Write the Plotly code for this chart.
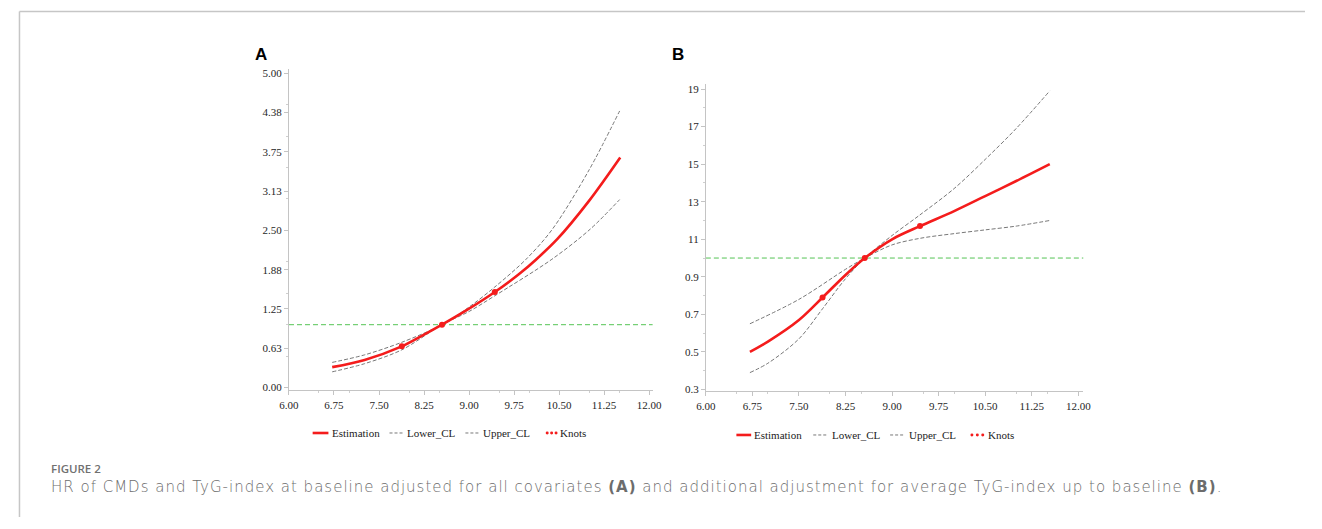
import plotly.graph_objects as go

# ---------------- Data ----------------
# Panel A  (x = TyG-index, y = HR)
a_est_x = [6.72, 7.26, 7.88, 8.19, 8.55, 8.96, 9.43, 9.84, 10.11, 10.47, 11.00, 11.52]
a_est_y = [0.325, 0.44, 0.655, 0.81, 1.00, 1.23, 1.52, 1.81, 2.03, 2.36, 2.97, 3.66]
a_up_x = [6.72, 7.26, 7.88, 8.55, 9.00, 9.43, 9.95, 10.39, 11.00, 11.51]
a_up_y = [0.40, 0.52, 0.72, 1.00, 1.28, 1.60, 2.04, 2.52, 3.46, 4.40]
a_lo_x = [6.72, 7.26, 7.88, 8.55, 9.00, 9.43, 10.38, 11.02, 11.51]
a_lo_y = [0.25, 0.38, 0.60, 1.00, 1.21, 1.46, 2.04, 2.52, 2.99]
a_knot_x = [7.88, 8.55, 9.43]
a_knot_y = [0.655, 1.00, 1.52]

# Panel B
b_est_x = [6.71, 7.00, 7.50, 7.88, 8.25, 8.56, 9.00, 9.45, 10.00, 10.50, 11.00, 11.54]
b_est_y = [0.50, 0.555, 0.67, 0.79, 0.91, 1.00, 1.10, 1.17, 1.25, 1.33, 1.41, 1.50]
b_lo_x = [6.71, 7.50, 8.25, 8.56, 9.00, 9.45, 10.00, 10.50, 11.00, 11.54]
b_lo_y = [0.65, 0.78, 0.94, 1.00, 1.07, 1.105, 1.13, 1.15, 1.17, 1.20]
b_up_x = [6.71, 7.00, 7.50, 7.88, 8.25, 8.56, 9.00, 9.45, 10.00, 10.50, 11.00, 11.54]
b_up_y = [0.39, 0.44, 0.57, 0.73, 0.89, 1.00, 1.12, 1.23, 1.37, 1.525, 1.69, 1.89]
b_knot_x = [7.88, 8.56, 9.45]
b_knot_y = [0.79, 1.00, 1.17]

ref_hr = 1.0

x_ticks = [6.00, 6.75, 7.50, 8.25, 9.00, 9.75, 10.50, 11.25, 12.00]
x_tick_text = ["6.00", "6.75", "7.50", "8.25", "9.00", "9.75", "10.50", "11.25", "12.00"]
a_y_ticks = [0.0, 0.625, 1.25, 1.875, 2.5, 3.125, 3.75, 4.375, 5.0]
a_y_text = ["0.00", "0.63", "1.25", "1.88", "2.50", "3.13", "3.75", "4.38", "5.00"]
b_y_ticks = [0.3, 0.5, 0.7, 0.9, 1.1, 1.3, 1.5, 1.7, 1.9]
b_y_text = ["0.3", "0.5", "0.7", "0.9", "11", "13", "15", "17", "19"]

legend_names = ["Estimation", "Lower_CL", "Upper_CL", "Knots"]
caption_head = "FIGURE 2"
caption_text = ("HR of CMDs and TyG-index at baseline adjusted for all covariates <b>(A)</b> "
                "and additional adjustment for average TyG-index up to baseline <b>(B)</b>.")

# ---------------- Geometry helpers (page pixels -> paper) ----------------
OFF = 8                      # default body margin of the page
W, H = 1322 - 2 * OFF, 529 - 2 * OFF


def px(X):
    return (X - OFF) / W


def py(Y):
    return 1 - (Y - OFF) / H


# ---------------- Styles ----------------
RED = "#f41c1c"
GRAY = "#777777"
GREEN = "#55c455"
SERIF = "Liberation Serif"
SMOOTH = 0.9

fig = go.Figure()


def add_panel(xa, ya, est_x, est_y, lo_x, lo_y, up_x, up_y, kx, ky):
    fig.add_trace(go.Scatter(x=lo_x, y=lo_y, mode="lines", name="Lower_CL",
                             line=dict(color=GRAY, width=1, dash="4px,2px", shape="spline", smoothing=SMOOTH),
                             xaxis=xa, yaxis=ya, showlegend=False))
    fig.add_trace(go.Scatter(x=up_x, y=up_y, mode="lines", name="Upper_CL",
                             line=dict(color=GRAY, width=1, dash="4px,2px", shape="spline", smoothing=SMOOTH),
                             xaxis=xa, yaxis=ya, showlegend=False))
    fig.add_trace(go.Scatter(x=est_x, y=est_y, mode="lines", name="Estimation",
                             line=dict(color=RED, width=2.6, shape="spline", smoothing=SMOOTH),
                             xaxis=xa, yaxis=ya, showlegend=False))
    fig.add_trace(go.Scatter(x=kx, y=ky, mode="markers", name="Knots",
                             marker=dict(color=RED, size=6),
                             xaxis=xa, yaxis=ya, showlegend=False))


add_panel("x", "y", a_est_x, a_est_y, a_lo_x, a_lo_y, a_up_x, a_up_y, a_knot_x, a_knot_y)
add_panel("x2", "y2", b_est_x, b_est_y, b_lo_x, b_lo_y, b_up_x, b_up_y, b_knot_x, b_knot_y)

axis_common = dict(
    showgrid=False, zeroline=False, showline=True, linecolor="#c4c4c4", linewidth=1,
    ticks="outside", ticklen=4, tickcolor="#c4c4c4", tickwidth=1,
    tickfont=dict(family=SERIF, size=11, color="#262626"),
    minor=dict(ticks="outside", ticklen=2, tickcolor="#cfcfcf", nticks=5),
)

fig.update_layout(
    width=W, height=H,
    margin=dict(l=0, r=0, t=0, b=0),
    paper_bgcolor="white", plot_bgcolor="white",
    showlegend=False,
    xaxis=dict(domain=[px(283), px(652)], range=[6.0, 12.06], anchor="y",
               tickvals=x_ticks, ticktext=x_tick_text, **axis_common),
    yaxis=dict(domain=[py(393), py(68)], range=[-0.047, 5.063], anchor="x",
               tickvals=a_y_ticks, ticktext=a_y_text, **axis_common),
    xaxis2=dict(domain=[px(706), px(1089)], range=[6.0, 12.08], anchor="y2",
                tickvals=x_ticks, ticktext=x_tick_text, **axis_common),
    yaxis2=dict(domain=[py(394), py(83)], range=[0.2895, 1.926], anchor="x2",
                tickvals=b_y_ticks, ticktext=b_y_text, **axis_common),
)

# reference lines at HR = 1
for xr, yr in (("x domain", "y"), ("x2 domain", "y2")):
    fig.add_shape(type="line", xref=xr, yref=yr, x0=0, x1=1, y0=ref_hr, y1=ref_hr,
                  line=dict(color=GREEN, width=1, dash="5px,3px"), layer="below")

# frame lines (page border)
fig.add_shape(type="line", xref="paper", yref="paper", x0=px(9.5), x1=1, y0=py(9.5), y1=py(9.5),
              line=dict(color="#c6c6c6", width=1.5))
fig.add_shape(type="line", xref="paper", yref="paper", x0=px(9.5), x1=px(9.5), y0=0, y1=py(9.5),
              line=dict(color="#c6c6c6", width=1.5))


# ---------------- manual legends (SAS style, compact) ----------------
def add_legend(y, est_seg, lo_seg, up_seg, knot_seg, text_x):
    yy = py(y)
    fig.add_shape(type="line", xref="paper", yref="paper", x0=px(est_seg[0]), x1=px(est_seg[1]),
                  y0=yy, y1=yy, line=dict(color=RED, width=2.6))
    for seg in (lo_seg, up_seg):
        fig.add_shape(type="line", xref="paper", yref="paper", x0=px(seg[0]), x1=px(seg[1]),
                      y0=yy, y1=yy, line=dict(color=GRAY, width=1, dash="3px,2px"))
    n = 3
    step = (knot_seg[1] - knot_seg[0]) / (n - 1)
    r = 1.5
    for i in range(n):
        cx = knot_seg[0] + i * step
        fig.add_shape(type="circle", xref="paper", yref="paper",
                      x0=px(cx - r), x1=px(cx + r), y0=py(y + r), y1=py(y - r),
                      line=dict(width=0), fillcolor=RED)
    for name, tx in zip(legend_names, text_x):
        fig.add_annotation(text=name, xref="paper", yref="paper", x=px(tx), y=yy,
                           xanchor="left", yanchor="middle", showarrow=False,
                           font=dict(family=SERIF, size=11, color="#222222"))


add_legend(436, (307, 323), (385, 400), (462, 477), (545, 554), (325, 401, 478, 556))
add_legend(438, (737, 752), (815, 830), (893, 908), (976, 987), (753, 832, 910, 990))

# panel letters
for letter, X in (("A", 246), ("B", 670)):
    fig.add_annotation(text="<b>%s</b>" % letter, xref="paper", yref="paper", x=px(X), y=py(53),
                       xanchor="left", yanchor="middle", showarrow=False,
                       font=dict(family="Liberation Sans", size=17, color="black"))

# caption
fig.add_annotation(text=caption_head, xref="paper", yref="paper", x=px(39), y=py(472),
                   xanchor="left", yanchor="middle", showarrow=False,
                   font=dict(family="Open Sans", size=11.5, color="#707070", weight=600))
fig.add_annotation(text='<span style="letter-spacing:1.0px">' + caption_text + "</span>",
                   xref="paper", yref="paper", x=px(39), y=py(491),
                   xanchor="left", yanchor="middle", showarrow=False,
                   font=dict(family="DejaVu Sans", size=15, color="#6c6c6c", weight=300))

fig.write_html("out.html")
